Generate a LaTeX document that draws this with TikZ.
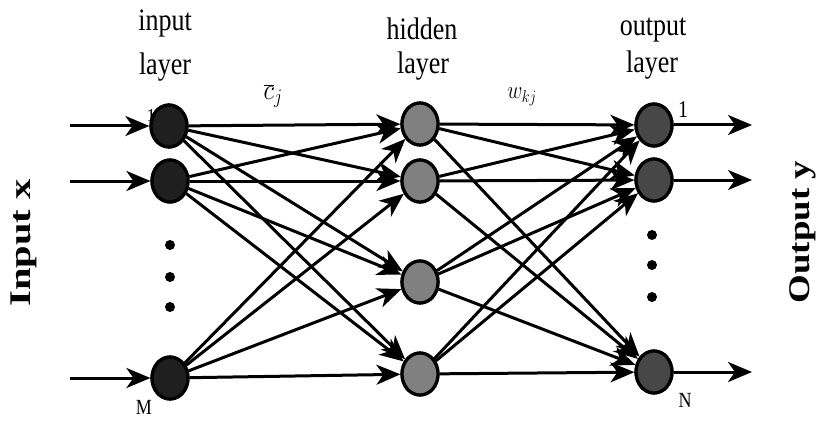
\documentclass[tikz,border=0pt]{standalone}
\usepackage{fontspec}
\setmainfont{Liberation Serif}
\usetikzlibrary{shapes.geometric,arrows.meta}
\begin{document}
\begin{tikzpicture}[x=1pt,y=-1pt,
  neuron/.style={ellipse,draw=black,line width=3.2pt,minimum width=36pt,minimum height=42pt,inner sep=0pt},
  inneuron/.style={neuron,fill=black!88},
  hidneuron/.style={neuron,fill=black!50},
  outneuron/.style={neuron,fill=black!72},
  conn/.style={line width=3pt,-{Stealth[length=24pt,width=20pt,inset=7pt]}},
  dotm/.style={circle,fill=black,inner sep=0pt,minimum size=10pt},
  lbl/.style={inner sep=0pt,anchor=base,font=\fontsize{26}{30}\selectfont}
]
\useasboundingbox (0,0) rectangle (826,422);
% nodes
\node[inneuron] (i1) at (169,126) {};
\node[inneuron] (i2) at (170,181) {};
\node[inneuron] (iM) at (170,378) {};
\node[hidneuron] (h1) at (420,124) {};
\node[hidneuron] (h2) at (420,181) {};
\node[hidneuron] (h3) at (420,282) {};
\node[hidneuron] (h4) at (420,374) {};
\node[outneuron] (o1) at (654,125) {};
\node[outneuron] (o2) at (654,180) {};
\node[outneuron] (oN) at (654,372) {};
% free ends
\coordinate (a1) at (70,126);
\coordinate (a2) at (70,181);
\coordinate (aM) at (70,378);
\coordinate (b1) at (752,125);
\coordinate (b2) at (752,180);
\coordinate (bN) at (752,372);
% input arrows
\draw[conn] (a1) -- (i1);
\draw[conn] (a2) -- (i2);
\draw[conn] (aM) -- (iM);
% input -> hidden
\foreach \s in {i1,i2,iM}{
  \foreach \t in {h1,h2,h3,h4}{
    \draw[conn] (\s) -- (\t);
  }
}
% hidden -> output
\foreach \s in {h1,h2,h3,h4}{
  \foreach \t in {o1,o2,oN}{
    \draw[conn] (\s) -- (\t);
  }
}
% output arrows
\draw[conn] (o1) -- (b1);
\draw[conn] (o2) -- (b2);
\draw[conn] (oN) -- (bN);
% redraw nodes on top
\node[inneuron] at (i1) {};
\node[inneuron] at (i2) {};
\node[inneuron] at (iM) {};
\node[hidneuron] at (h1) {};
\node[hidneuron] at (h2) {};
\node[hidneuron] at (h3) {};
\node[hidneuron] at (h4) {};
\node[outneuron] at (o1) {};
\node[outneuron] at (o2) {};
\node[outneuron] at (oN) {};
% dots
\node[dotm] (d1) at (170,245) {};
\node[dotm] (d2) at (170,277) {};
\node[dotm] (d3) at (170,307) {};
\node[dotm] (e1) at (652,235) {};
\node[dotm] (e2) at (652,265) {};
\node[dotm] (e3) at (652,297) {};
% layer labels
\node[lbl] (t1) at (165,31) {\scalebox{1}[1.2]{input}};
\node[lbl] (t2) at (165,75) {\scalebox{1}[1.2]{layer}};
\node[lbl] (t3) at (422,40) {\scalebox{1}[1.2]{hidden}};
\node[lbl] (t4) at (423,74) {\scalebox{1}[1.2]{layer}};
\node[lbl] (t5) at (653,36) {\scalebox{1}[1.2]{output}};
\node[lbl] (t6) at (652,73) {\scalebox{1}[1.2]{layer}};
% weight labels
\node[inner sep=0pt] (cj) at (273,96) {\fontsize{27}{30}\selectfont\scalebox{1}[1.2]{$\overline{c}_j$}};
\node[inner sep=0pt] (wkj) at (522,97) {\fontsize{21}{24}\selectfont\scalebox{1}[1.2]{$w_{kj}$}};
% index labels
\node[inner sep=0pt] (n1) at (151,116) {\fontsize{18}{20}\selectfont 1};
\node[inner sep=0pt] (n2) at (683,110) {\fontsize{20}{22}\selectfont\scalebox{1}[1.2]{1}};
\node[inner sep=0pt] (nM) at (144,407) {\fontsize{18}{20}\selectfont\scalebox{1}[1.2]{M}};
\node[inner sep=0pt] (nN) at (685,400) {\fontsize{18}{20}\selectfont\scalebox{1}[1.2]{N}};
% side labels
\node[inner sep=0pt] (inx) at (24,243) {\rotatebox{90}{\scalebox{1.35}[1]{\fontsize{30}{34}\selectfont\bfseries Input x}}};
\node[inner sep=0pt] (outy) at (803,232) {\rotatebox{90}{\scalebox{1.23}[1]{\fontsize{30}{34}\selectfont\bfseries Output y}}};
\end{tikzpicture}
\end{document}
